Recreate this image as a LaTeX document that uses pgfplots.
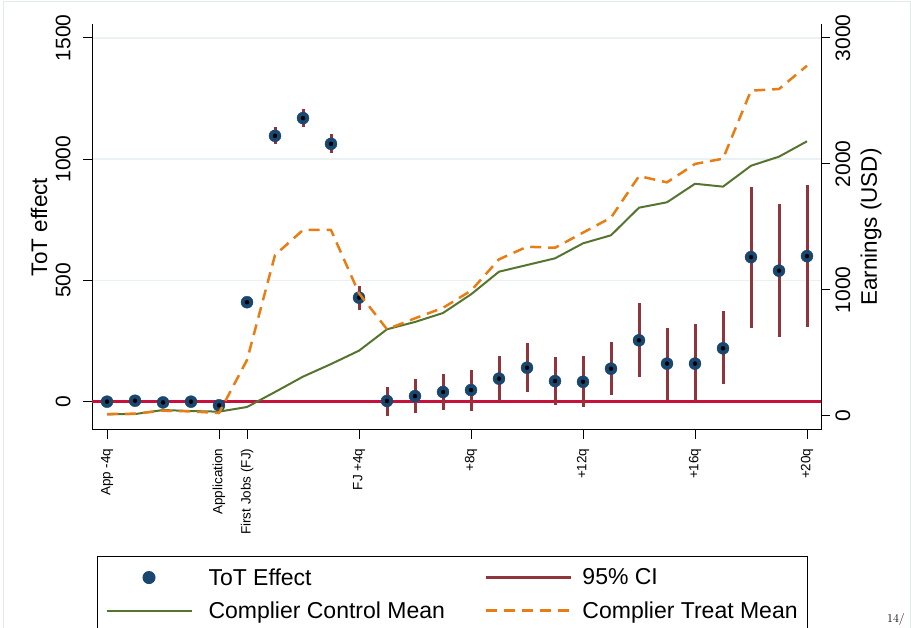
\documentclass[border=0pt]{standalone}
\usepackage{fontspec}
\usepackage{pgfplots}
\pgfplotsset{compat=1.18}
\usepackage{pgfplotstable}
\newfontfamily\arial{Liberation Sans}

\definecolor{totnavy}{RGB}{26,71,111}
\definecolor{cimaroon}{RGB}{144,53,59}
\definecolor{zerored}{RGB}{200,16,60}
\definecolor{ctrlgreen}{RGB}{85,117,47}
\definecolor{treatorange}{RGB}{232,125,20}
\definecolor{gridblue}{RGB}{234,241,243}
\definecolor{framecol}{RGB}{226,234,236}

% ToT effect by quarter: point estimate and 95% CI bounds
\pgfplotstableread{
q est lo hi
0 0 -10 10
1 4 -6 14
2 -3 -13 7
3 0 -10 10
4 -15 -34 0
5 410 385 433
6 1096 1062 1131
7 1169 1132 1205
8 1063 1026 1102
9 429 378 478
10 3 -58 62
11 23 -45 94
12 40 -34 114
13 48 -37 132
14 95 1 188
15 140 41 241
16 85 -14 184
17 82 -23 188
18 136 29 246
19 253 100 408
20 157 8 305
21 157 2 320
22 220 72 374
23 596 304 886
24 540 265 815
25 600 309 893
}\effects

% Complier mean quarterly earnings (USD)
\pgfplotstableread{
q ctrl treat
0 11 13
1 13 16
2 45 40
3 37 34
4 32 21
5 69 442
6 188 1275
7 310 1474
8 410 1474
9 516 971
10 686 686
11 744 773
12 815 856
13 963 992
14 1143 1241
15 1196 1341
16 1249 1333
17 1368 1453
18 1432 1572
19 1651 1902
20 1694 1852
21 1841 1998
22 1818 2040
23 1984 2580
24 2056 2593
25 2178 2778
}\earnings

\pgfplotsset{
  twinbase/.style={
    scale only axis, width=729pt, height=406pt,
    at={(92pt,198pt)}, anchor=south west,
    xmin=-0.536, xmax=25.5,
    axis line style={line width=1pt, black, -},
    tick style={line width=1pt, black},
    major tick length=9pt,
    tick align=outside,
    minor tick num=0,
    /pgf/number format/assume math mode=true,
    /pgf/number format/1000 sep={},
  },
}

\begin{document}
\begin{tikzpicture}
\useasboundingbox (0,0) rectangle (911pt,628pt);
\draw[framecol, line width=1pt] (3pt,-5pt) -- (3pt,626pt) -- (910pt,626pt) -- (910pt,-5pt);

% left axis: treatment-on-treated effect
\begin{axis}[twinbase,
  axis x line*=bottom, axis y line*=left,
  ymin=-116.7, ymax=1557,
  ytick={0,500,1000,1500},
  ymajorgrids, grid style={gridblue, line width=1.5pt},
  yticklabel style={font=\arial\fontsize{21}{21}\selectfont, rotate=90, anchor=south},
  yticklabel shift=9pt,
  xtick={0,4,5,9,13,17,21,25},
  xticklabels={App -4q, Application, First Jobs (FJ), FJ +4q, +8q, +12q, +16q, +20q},
  xticklabel style={font=\arial\fontsize{13.5}{13.5}\selectfont, rotate=90, anchor=east},
  xticklabel shift=6pt,
  ylabel={ToT effect},
  every axis y label/.style={at={(axis description cs:-0.0727,0.5)}, rotate=90, anchor=center,
    font=\arial\fontsize{22.5}{22.5}\selectfont},
]
\addplot[zerored, line width=2.5pt, forget plot] coordinates {(-0.536,0) (25.5,0)};
\addplot[only marks, mark=*, mark size=6pt, totnavy, mark options={draw=none, fill=totnavy}]
  table[x=q, y=est]{\effects};
\addplot[only marks, mark=none,
  error bars/.cd, y dir=both, y explicit, error mark=none,
  error bar style={draw=cimaroon, line width=3pt}]
  table[x=q, y=est, y error plus expr=\thisrow{hi}-\thisrow{est},
        y error minus expr=\thisrow{est}-\thisrow{lo}]{\effects};
\end{axis}

% right axis: complier mean earnings
\begin{axis}[twinbase,
  axis x line=none, axis y line*=right,
  ymin=-113.5, ymax=3109,
  ytick={0,1000,2000,3000},
  yticklabel style={font=\arial\fontsize{21}{21}\selectfont, rotate=90, anchor=north},
  yticklabel shift=2pt,
  ylabel={Earnings (USD)},
  every axis y label/.style={at={(axis description cs:1.0686,0.5)}, rotate=90, anchor=center,
    font=\arial\fontsize{22.5}{22.5}\selectfont},
  legend columns=2,
  legend cell align=left,
  legend image code/.code={\draw[#1] (0pt,0pt) -- (85pt,0pt);},
  legend style={at={(axis description cs:0.00686,-0.3103)}, anchor=north west,
    draw=black, line width=1pt, font=\arial\fontsize{23}{27}\selectfont,
    inner xsep=8pt, inner ysep=10pt, row sep=11pt,
    nodes={inner ysep=2pt},
    /tikz/column 1/.style={column sep=14pt},
    /tikz/column 2/.style={column sep=38pt},
    /tikz/column 3/.style={column sep=8pt}},
]
\addlegendimage{legend image code/.code={\fill[totnavy] (42.5pt,0pt) circle (6pt);}}
\addlegendentry{ToT Effect}
\addlegendimage{cimaroon, line width=2.5pt}
\addlegendentry{95\% CI}
\addplot[ctrlgreen, line width=2pt, line join=round] table[x=q, y=ctrl]{\earnings};
\addlegendentry{Complier Control Mean}
\addplot[treatorange, line width=2.5pt, line join=round, dash pattern=on 11pt off 7pt]
  table[x=q, y=treat]{\earnings};
\addlegendentry{Complier Treat Mean\hspace{10pt}}
\end{axis}

\node[anchor=base west, font=\fontsize{12}{14}\selectfont, inner sep=0pt] at (887pt,5.5pt) {14/};
\end{tikzpicture}
\end{document}
